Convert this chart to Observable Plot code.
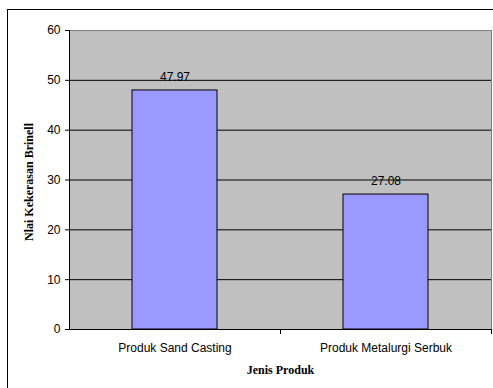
<!DOCTYPE html>
<html>
<head>
<meta charset="utf-8">
<script src="https://cdn.jsdelivr.net/npm/d3@7"></script>
<script src="https://cdn.jsdelivr.net/npm/@observablehq/plot@0.6"></script>
<style>
  html, body { margin: 0; padding: 0; background: #fff; }
  #wrap { position: relative; width: 493px; height: 388px; overflow: hidden; }
  #wrap svg { display: block; position: absolute; left: 0; top: 0; }
  #border { position: absolute; left: 7px; top: 9px; width: 600px; height: 500px;
            border-left: 1px solid #000; border-top: 1px solid #000; box-sizing: border-box; }
</style>
</head>
<body>
<div id="wrap"><div id="border"></div></div>
<script>
const categories = ["Produk Sand Casting", "Produk Metalurgi Serbuk"];
const values = [47.97, 27.08];
const valueLabels = ["47.97", "27.08"];
const yTicks = [0, 10, 20, 30, 40, 50, 60];
const gridTicks = [10, 20, 30, 40, 50];
const yTitle = "Nlai Kekerasan Brinell";
const xTitle = "Jenis Produk";

const data = categories.map((c, i) => ({cat: c, v: values[i], label: valueLabels[i]}));

const sans = "Arial, 'Liberation Sans', sans-serif";
const serif = "'Times New Roman', 'Liberation Serif', serif";

const chart = Plot.plot({
  width: 493,
  height: 388,
  marginLeft: 69,
  marginTop: 30,
  marginBottom: 59,
  marginRight: 2,
  style: {background: "transparent", fontFamily: sans, fontSize: "12px", color: "#000"},
  x: {type: "band", domain: categories, padding: 0},
  y: {domain: [0, 60]},
  marks: [
    Plot.frame({fill: "#C0C0C0", stroke: "#808080"}),
    Plot.ruleY(gridTicks, {stroke: "#000"}),
    Plot.barY(data, {x: "cat", y: "v", fill: "#9999FF", stroke: "#000", insetLeft: 63, insetRight: 63}),
    Plot.ruleY([0], {stroke: "#000"}),
    Plot.frame({anchor: "left", stroke: "#000"}),
    Plot.axisY({ticks: yTicks, tickSize: 4, tickPadding: 5, label: null, fontSize: 12, fontFamily: sans, letterSpacing: 0.5, stroke: "#000"}),
    Plot.axisX({tickSize: 0, tickPadding: 14, label: null, fontSize: 12, fontFamily: sans, letterSpacing: 0.4}),
    Plot.axisX({tickSize: 5, tickFormat: () => "", label: null, dx: 105.5, stroke: "#000"}),
    Plot.text(data, {x: "cat", y: "v", text: "label", dy: -13, fontSize: 12, fontFamily: sans, letterSpacing: 0.5, fill: "#000"}),
    Plot.text([yTitle], {frameAnchor: "left", textAnchor: "middle", text: d => d, rotate: -90, dx: -40, dy: 2, fontSize: 12, fontWeight: "bold", fontFamily: serif, letterSpacing: 2.4, fill: "#000"}),
    Plot.text([xTitle], {frameAnchor: "bottom", text: d => d, dy: 44, fontSize: 12, fontWeight: "bold", fontFamily: serif, letterSpacing: 1, fill: "#000"})
  ]
});
document.getElementById("wrap").appendChild(chart);
</script>
</body>
</html>
